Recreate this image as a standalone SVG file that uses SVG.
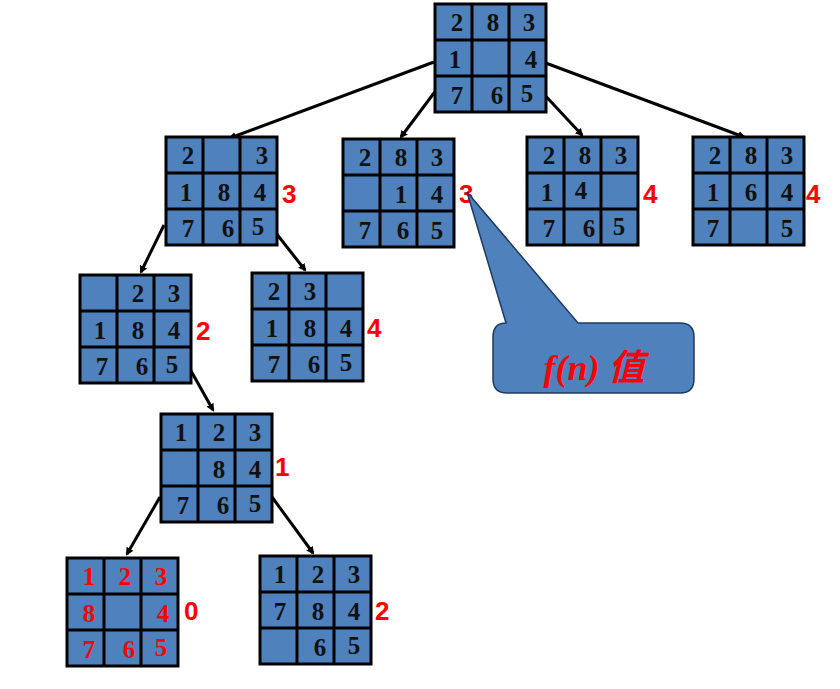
<svg xmlns="http://www.w3.org/2000/svg" width="840" height="689" viewBox="0 0 840 689">
<style>
.b{fill:#4f81bd;stroke:#000;stroke-width:3}
.g{stroke:#000;stroke-width:3}
.n{font-family:"Liberation Serif",serif;font-weight:bold;font-size:25px;text-anchor:middle;fill:#111}
.r{fill:#ff0000}
.f{font-family:"Liberation Sans",sans-serif;font-weight:bold;font-size:26px;fill:#ff0000}
.c{stroke:#000;stroke-width:3;fill:none;marker-end:url(#a)}
</style>
<defs>
<marker id="a" markerWidth="8" markerHeight="8" refX="6" refY="4" orient="auto" markerUnits="userSpaceOnUse"><path d="M0,0L8,4L0,8z" fill="#000"/></marker>
<g id="grid"><rect class="b" x="0" y="0" width="111" height="108"/><path class="g" d="M37,0V108M74,0V108M0,36H111M0,72H111"/></g>
</defs>
<g id="connectors">
<path class="c" d="M434,62L230,138"/>
<path class="c" d="M440,85L401,137"/>
<path class="c" d="M540,90L582,135"/>
<path class="c" d="M543,62L744,137"/>
<path class="c" d="M164,225L141,272"/>
<path class="c" d="M272,228L305,270"/>
<path class="c" d="M186,362L213,410"/>
<path class="c" d="M160,497L127,554"/>
<path class="c" d="M272,497L313,553"/>
</g>
<g id="root" transform="translate(435,4)"><use href="#grid"/><text class="n" x="22" y="27">2</text><text class="n" x="58" y="27">8</text><text class="n" x="94" y="27">3</text><text class="n" x="20" y="64">1</text><text class="n" x="96" y="64">4</text><text class="n" x="22" y="100">7</text><text class="n" x="62" y="100">6</text><text class="n" x="92" y="98">5</text></g>
<g id="n1a" transform="translate(166,137)"><use href="#grid"/><text class="n" x="22" y="27">2</text><text class="n" x="96" y="27">3</text><text class="n" x="20" y="64">1</text><text class="n" x="58" y="64">8</text><text class="n" x="94" y="64">4</text><text class="n" x="22" y="100">7</text><text class="n" x="62" y="100">6</text><text class="n" x="92" y="98">5</text></g>
<g id="n1b" transform="translate(343,139)"><use href="#grid"/><text class="n" x="22" y="27">2</text><text class="n" x="58" y="27">8</text><text class="n" x="94" y="27">3</text><text class="n" x="58" y="64">1</text><text class="n" x="94" y="64">4</text><text class="n" x="22" y="100">7</text><text class="n" x="60" y="100">6</text><text class="n" x="94" y="100">5</text></g>
<g id="n1c" transform="translate(527,137)"><use href="#grid"/><text class="n" x="22" y="27">2</text><text class="n" x="58" y="27">8</text><text class="n" x="94" y="27">3</text><text class="n" x="20" y="64">1</text><text class="n" x="54" y="62">4</text><text class="n" x="22" y="100">7</text><text class="n" x="62" y="100">6</text><text class="n" x="92" y="98">5</text></g>
<g id="n1d" transform="translate(693,137)"><use href="#grid"/><text class="n" x="22" y="27">2</text><text class="n" x="58" y="27">8</text><text class="n" x="94" y="27">3</text><text class="n" x="20" y="64">1</text><text class="n" x="58" y="64">6</text><text class="n" x="94" y="64">4</text><text class="n" x="20" y="100">7</text><text class="n" x="94" y="100">5</text></g>
<g id="n2a" transform="translate(80,275)"><use href="#grid"/><text class="n" x="58" y="27">2</text><text class="n" x="94" y="27">3</text><text class="n" x="20" y="64">1</text><text class="n" x="58" y="64">8</text><text class="n" x="94" y="64">4</text><text class="n" x="22" y="100">7</text><text class="n" x="62" y="100">6</text><text class="n" x="92" y="98">5</text></g>
<g id="n2b" transform="translate(252,273)"><use href="#grid"/><text class="n" x="22" y="27">2</text><text class="n" x="58" y="27">3</text><text class="n" x="20" y="64">1</text><text class="n" x="58" y="64">8</text><text class="n" x="94" y="64">4</text><text class="n" x="22" y="100">7</text><text class="n" x="62" y="100">6</text><text class="n" x="94" y="98">5</text></g>
<g id="n3" transform="translate(161,414)"><use href="#grid"/><text class="n" x="20" y="27">1</text><text class="n" x="58" y="27">2</text><text class="n" x="94" y="27">3</text><text class="n" x="58" y="64">8</text><text class="n" x="94" y="64">4</text><text class="n" x="22" y="100">7</text><text class="n" x="62" y="100">6</text><text class="n" x="94" y="98">5</text></g>
<g id="n4a" transform="translate(67,558)"><use href="#grid"/><g class="r"><text class="n r" x="22" y="27">1</text><text class="n r" x="58" y="27">2</text><text class="n r" x="94" y="27">3</text><text class="n r" x="22" y="64">8</text><text class="n r" x="96" y="64">4</text><text class="n r" x="22" y="100">7</text><text class="n r" x="62" y="100">6</text><text class="n r" x="94" y="98">5</text></g></g>
<g id="n4b" transform="translate(260,556)"><use href="#grid"/><text class="n" x="20" y="27">1</text><text class="n" x="58" y="27">2</text><text class="n" x="94" y="27">3</text><text class="n" x="20" y="64">7</text><text class="n" x="58" y="64">8</text><text class="n" x="94" y="64">4</text><text class="n" x="60" y="100">6</text><text class="n" x="94" y="98">5</text></g>
<g id="labels">
<text class="f" x="282" y="203">3</text><text class="f" x="459" y="203">3</text><text class="f" x="643" y="203">4</text><text class="f" x="806" y="203">4</text><text class="f" x="196" y="340">2</text><text class="f" x="367" y="337">4</text><text class="f" x="275" y="476">1</text><text class="f" x="184" y="620">0</text><text class="f" x="375" y="620">2</text>
</g>
<g id="callout">
<path d="M506,323L467,192L578,323H680Q694,323 694,337V379Q694,393 680,393H507Q493,393 493,379V337Q493,323 506,323Z" fill="#4f81bd" stroke="#1f3a5f" stroke-width="1.5"/>
<text x="594" y="380" text-anchor="middle" font-family="'Liberation Serif','Noto Sans CJK SC',serif" font-weight="bold" font-style="italic" font-size="36" fill="#ff0000">f(n) 值</text>
</g>
</svg>
